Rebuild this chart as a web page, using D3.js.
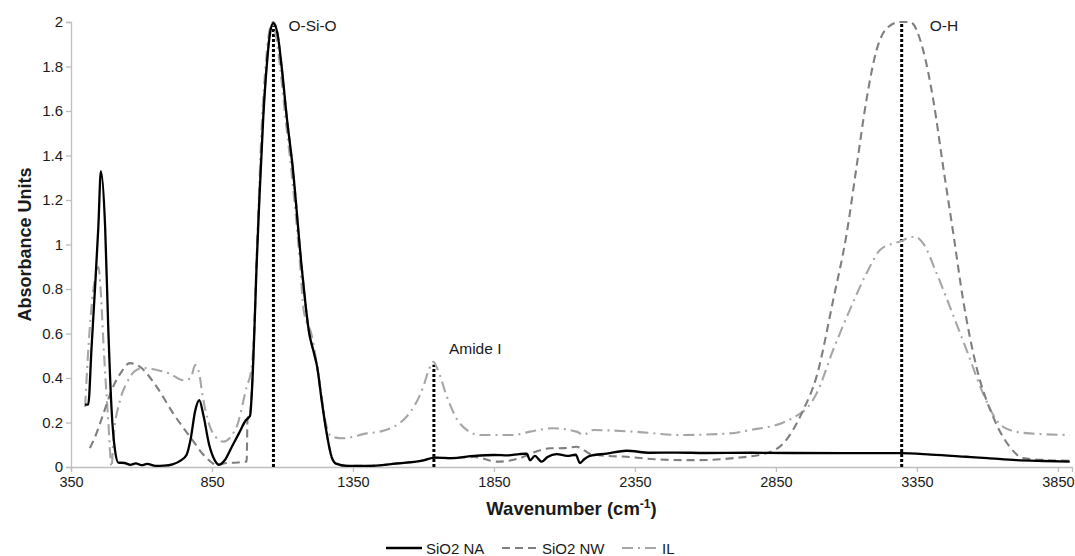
<!DOCTYPE html>
<html>
<head>
<meta charset="utf-8">
<script src="https://cdn.jsdelivr.net/npm/d3@7"></script>
<style>
  body { margin: 0; background: #fff; }
  svg text { font-family: "Liberation Sans", Arial, sans-serif; fill: #1a1a1a; }
</style>
</head>
<body>
<div class="vis-ftir"></div>
<script>
// spectra: [wavenumber, absorbance]
const sio2NA = [
  [400,0.28],[411,0.28],[423,0.54],[435,0.8],[447,1.08],[456,1.33],[471,1.08],[482,0.63],[494,0.256],[506,0.076],[518,0.02],
  [540,0.018],[560,0.01],[580,0.016],[600,0.008],[620,0.014],[650,0.005],[680,0.006],[710,0.012],[740,0.03],[760,0.055],
  [775,0.13],[790,0.25],[805,0.30],[820,0.23],[840,0.1],[860,0.03],[875,0.01],[895,0.03],[920,0.09],[945,0.15],[970,0.21],
  [985,0.23],[992,0.35],[1000,0.6],[1008,0.9],[1018,1.2],[1032,1.575],[1044,1.8],[1056,1.95],[1067,1.995],[1082,1.95],
  [1097,1.8],[1115,1.575],[1136,1.35],[1168,0.9],[1195,0.6],[1210,0.52],[1223,0.45],[1239,0.3],[1257,0.15],[1274,0.046],
  [1290,0.015],[1328,0.005],[1400,0.005],[1500,0.015],[1600,0.03],[1640,0.042],[1700,0.04],[1780,0.05],[1850,0.054],
  [1900,0.052],[1940,0.058],[1966,0.06],[1978,0.03],[1995,0.05],[2019,0.024],[2040,0.045],[2072,0.058],[2110,0.05],
  [2140,0.055],[2155,0.018],[2170,0.035],[2190,0.05],[2250,0.06],[2320,0.073],[2403,0.064],[2500,0.065],[2600,0.063],
  [2758,0.064],[2900,0.063],[3100,0.062],[3290,0.062],[3400,0.056],[3526,0.046],[3600,0.04],[3703,0.031],[3800,0.027],[3892,0.024]
];
const sio2NW = [
  [417,0.085],[440,0.15],[465,0.24],[494,0.345],[525,0.42],[559,0.467],[595,0.45],[654,0.36],[713,0.24],[772,0.136],
  [831,0.04],[867,0.01],[902,0.018],[940,0.02],[967,0.024],[973,0.024],[976,0.22],[985,0.24],[992,0.36],[1000,0.62],
  [1008,0.92],[1018,1.22],[1032,1.59],[1044,1.81],[1056,1.96],[1067,2.0],[1082,1.95],[1097,1.8],[1115,1.575],[1136,1.35],
  [1168,0.9],[1195,0.6],[1210,0.52],[1223,0.45],[1239,0.3],[1257,0.15],[1274,0.046],[1290,0.015],[1328,0.005],[1400,0.005],
  [1500,0.015],[1600,0.03],[1640,0.042],[1700,0.04],[1780,0.045],[1860,0.024],[1942,0.04],[2000,0.07],[2048,0.084],
  [2100,0.085],[2143,0.091],[2170,0.075],[2190,0.06],[2250,0.05],[2320,0.046],[2420,0.035],[2520,0.031],[2580,0.031],
  [2700,0.04],[2817,0.062],[2876,0.106],[2947,0.256],[2994,0.406],[3053,0.75],[3101,1.05],[3136,1.35],[3171,1.65],
  [3207,1.874],[3242,1.97],[3290,2.0],[3326,2.0],[3372,1.874],[3408,1.65],[3443,1.35],[3479,1.05],[3514,0.75],
  [3561,0.45],[3620,0.226],[3679,0.091],[3727,0.04],[3810,0.031],[3892,0.028]
];
const ionicL = [
  [400,0.27],[410,0.5],[425,0.75],[441,0.88],[447,0.9],[455,0.8],[465,0.557],[482,0.21],[494,0.0],[500,0.12],[524,0.3],
  [547,0.376],[575,0.43],[605,0.445],[654,0.436],[700,0.42],[748,0.39],[775,0.4],[790,0.458],[805,0.42],[813,0.35],
  [843,0.18],[860,0.14],[890,0.114],[937,0.18],[973,0.36],[990,0.44],[1000,0.62],[1008,0.9],[1016,1.2],[1028,1.575],
  [1040,1.8],[1052,1.95],[1063,1.99],[1078,1.93],[1093,1.78],[1112,1.55],[1130,1.35],[1163,0.9],[1175,0.705],[1205,0.586],
  [1227,0.42],[1257,0.18],[1274,0.136],[1316,0.129],[1399,0.151],[1446,0.159],[1540,0.226],[1599,0.36],[1620,0.44],
  [1635,0.473],[1650,0.44],[1683,0.316],[1729,0.196],[1800,0.144],[1918,0.144],[1978,0.159],[2060,0.174],[2143,0.159],
  [2167,0.144],[2202,0.166],[2344,0.159],[2510,0.144],[2687,0.151],[2758,0.166],[2876,0.2],[2935,0.24],[2964,0.27],
  [2994,0.33],[3053,0.526],[3112,0.706],[3171,0.87],[3219,0.975],[3266,1.005],[3290,1.013],[3320,1.03],[3343,1.035],
  [3372,1.005],[3420,0.87],[3467,0.72],[3526,0.526],[3585,0.33],[3632,0.211],[3679,0.166],[3750,0.151],[3892,0.144]
];

const seriesNames = ["SiO2 NA", "SiO2 NW", "IL"];
const xTicks = [350, 850, 1350, 1850, 2350, 2850, 3350, 3850];
const yTicks = [0, 0.2, 0.4, 0.6, 0.8, 1, 1.2, 1.4, 1.6, 1.8, 2];
// band markers: label, wavenumber, top of the dotted line
const bandLabels = ["O-Si-O", "Amide I", "O-H"];
const bandWn = [1068, 1637, 3296];
const bandTop = [2, 0.46, 2];

const W = 1075, H = 556;
const margin = { top: 22, right: 3, bottom: 89, left: 71 };

const svg = d3.select(".vis-ftir")
    .append("svg")
    .attr("width", W)
    .attr("height", H);

let x = d3.scaleLinear()
    .domain([350, 3900])
    .range([margin.left, W - margin.right]);
let y = d3.scaleLinear()
    .domain([0, 2])
    .range([H - margin.bottom, margin.top]);

// axes
const xAxis = svg.append("g")
    .attr("transform", "translate(0," + y(0) + ")")
    .call(d3.axisBottom(x).tickValues(xTicks).tickSize(5).tickPadding(5).tickFormat(d3.format("d")));
const yAxis = svg.append("g")
    .attr("transform", "translate(" + x(350) + ",0)")
    .call(d3.axisLeft(y).tickValues(yTicks).tickSize(5).tickPadding(3).tickFormat(d3.format("~g")));
[xAxis, yAxis].forEach(function (g) {
    g.select(".domain").attr("stroke", "#bfbfbf").attr("stroke-width", 1.3);
    g.selectAll(".tick line").attr("stroke", "#bfbfbf").attr("stroke-width", 1.3);
    g.selectAll(".tick text")
        .style("font-family", "'Liberation Sans', Arial, sans-serif")
        .style("font-size", "14.5px")
        .attr("fill", "#1a1a1a");
});
yAxis.selectAll(".tick text").style("font-size", "15px");

// dotted band markers
const labelDx = [15, 15, 28];
const labelDy = [9, -11, 9];
bandWn.forEach(function (wn, i) {
    svg.append("line")
        .attr("x1", x(wn)).attr("x2", x(wn))
        .attr("y1", y(0)).attr("y2", y(bandTop[i]))
        .attr("stroke", "#000")
        .attr("stroke-width", 3)
        .attr("stroke-dasharray", "3,2");
    svg.append("text")
        .attr("x", x(wn) + labelDx[i])
        .attr("y", y(bandTop[i]) + labelDy[i])
        .style("font-size", "15.5px")
        .text(bandLabels[i]);
});

const line = d3.line()
    .x(function (d) { return x(d[0]); })
    .y(function (d) { return y(d[1]); })
    .curve(d3.curveMonotoneX);

const styles = [
    { data: sio2NA, stroke: "#000000", width: 2.3, dash: null },
    { data: sio2NW, stroke: "#7f7f7f", width: 2.1, dash: "8,5" },
    { data: ionicL, stroke: "#a6a6a6", width: 2.1, dash: "11,5,2,5" }
];

// draw IL first, then NW, black on top
[2, 1, 0].forEach(function (i) {
    svg.append("path")
        .datum(styles[i].data)
        .attr("fill", "none")
        .attr("stroke", styles[i].stroke)
        .attr("stroke-width", styles[i].width)
        .attr("stroke-dasharray", styles[i].dash)
        .attr("stroke-linejoin", "round")
        .attr("d", line);
});

// axis titles
const xTitle = svg.append("text")
    .attr("x", (x.range()[0] + x.range()[1]) / 2)
    .attr("y", 515)
    .attr("text-anchor", "middle")
    .style("font-size", "18.5px")
    .style("font-weight", "bold");
xTitle.append("tspan").text("Wavenumber (cm");
xTitle.append("tspan").attr("dy", -7).style("font-size", "12px").text("-1");
xTitle.append("tspan").attr("dy", 7).text(")");

svg.append("text")
    .attr("transform", "translate(31," + (y(0) + y(2)) / 2 + ") rotate(-90)")
    .attr("text-anchor", "middle")
    .style("font-size", "18px")
    .style("font-weight", "bold")
    .text("Absorbance Units");

// legend
const legendX = [386, 502, 622];
const legend = svg.append("g");
styles.forEach(function (s, i) {
    legend.append("line")
        .attr("x1", legendX[i]).attr("x2", legendX[i] + 36)
        .attr("y1", 548).attr("y2", 548)
        .attr("stroke", s.stroke)
        .attr("stroke-width", s.width)
        .attr("stroke-dasharray", s.dash);
    legend.append("text")
        .attr("x", legendX[i] + 40)
        .attr("y", 553.5)
        .style("font-size", "15px")
        .text(seriesNames[i]);
});
</script>
</body>
</html>
